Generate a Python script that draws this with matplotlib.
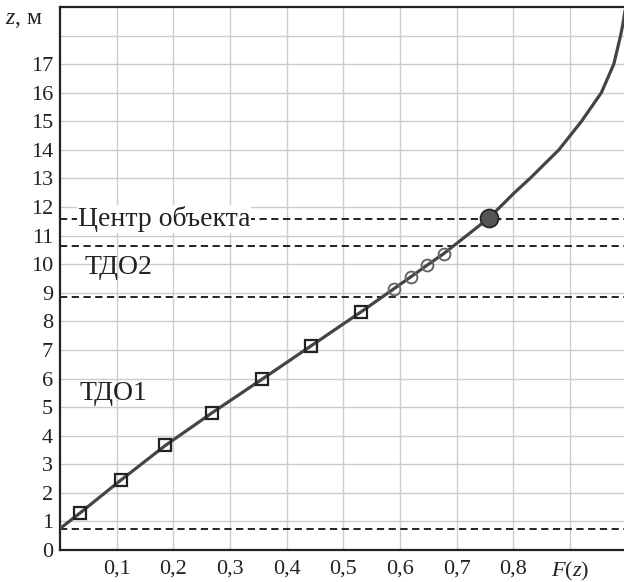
import matplotlib.pyplot as plt

# curve F(z)
curve_F = [0.0, 0.035, 0.107, 0.186, 0.269, 0.356, 0.442, 0.531, 0.589, 0.619,
           0.648, 0.677, 0.757, 0.800, 0.829, 0.880, 0.902, 0.920, 0.955, 0.977,
           0.989, 0.993, 0.997]
curve_z = [0.75, 1.29, 2.44, 3.66, 4.81, 5.97, 7.13, 8.33, 9.14, 9.56,
           9.97, 10.37, 11.62, 12.47, 13.0, 14.0, 14.55, 15.0, 16.0, 17.0,
           18.0, 18.4, 18.9]

# ТДО1 points (squares)
tdo1_F = [0.035, 0.107, 0.186, 0.269, 0.356, 0.442, 0.531]
tdo1_z = [1.29, 2.44, 3.66, 4.81, 5.97, 7.13, 8.33]

# ТДО2 points (circles)
tdo2_F = [0.589, 0.619, 0.648, 0.677]
tdo2_z = [9.14, 9.56, 9.97, 10.37]

# object centre
center_F = [0.757]
center_z = [11.62]

# dashed levels
levels = [0.75, 8.85, 10.62, 11.57]

x_ticks = [0.1, 0.2, 0.3, 0.4, 0.5, 0.6, 0.7, 0.8, 0.9]
x_labels = ['0,1', '0,2', '0,3', '0,4', '0,5', '0,6', '0,7', '0,8', '$F$($z$)']
y_ticks = list(range(0, 18))

plt.rcParams['font.family'] = ['Liberation Serif', 'DejaVu Serif']
plt.rcParams['mathtext.fontset'] = 'custom'
plt.rcParams['mathtext.it'] = 'Liberation Serif:italic'
plt.rcParams['mathtext.rm'] = 'Liberation Serif'

fig = plt.figure(figsize=(6.24, 5.82), dpi=100)
ax = fig.add_axes([0.0962, 0.055, 0.9038, 0.933])

ax.set_xlim(0, 0.995)
ax.set_ylim(0, 19)

ax.set_xticks(x_ticks)
ax.set_xticklabels(x_labels)
ax.set_yticks(range(0, 19))
ax.set_yticklabels([str(t) for t in y_ticks] + [''])
ax.tick_params(length=0, labelsize=16, colors='#222222')
ax.tick_params(axis='y', pad=5)
ax.tick_params(axis='x', pad=7)
ax.grid(True, color='#cccccc', lw=1)
ax.set_axisbelow(True)

for s in ['left', 'bottom', 'top']:
    ax.spines[s].set_linewidth(1.6)
    ax.spines[s].set_color('#222222')
ax.spines['right'].set_visible(False)

for lv in levels:
    ax.axhline(lv, color='#111111', ls=(0, (4, 2.5)), lw=1.3, zorder=2)

ax.plot(curve_F, curve_z, color='#444444', lw=2.3, zorder=3, solid_capstyle='round')
ax.plot(tdo1_F, tdo1_z, ls='none', marker='s', ms=8.5, mfc='none',
        mec='#222222', mew=1.6, zorder=4)
ax.plot(tdo2_F, tdo2_z, ls='none', marker='o', ms=8.5, mfc='none',
        mec='#666666', mew=1.4, zorder=4)
ax.plot(center_F, center_z, ls='none', marker='o', ms=13, mfc='#555555',
        mec='#222222', mew=1.2, zorder=5)

ax.text(0.031, 11.57, 'Центр объекта', fontsize=20, color='#222222', va='center',
        ha='left', bbox=dict(facecolor='white', edgecolor='none', pad=0.5), zorder=3)
ax.text(0.044, 9.9, 'ТДО2', fontsize=20, color='#222222', va='center', ha='left')
ax.text(0.035, 5.49, 'ТДО1', fontsize=20, color='#222222', va='center', ha='left')

fig.text(0.008, 0.966, '$z$, м', fontsize=17, color='#222222', va='center', ha='left')

fig.savefig('out.png', dpi=100)
